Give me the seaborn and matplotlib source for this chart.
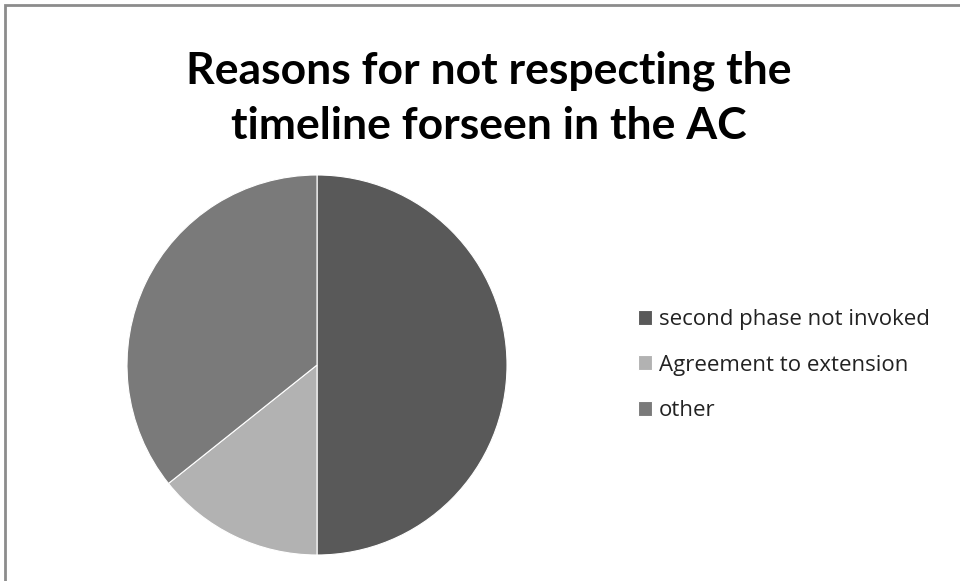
import matplotlib
matplotlib.use("Agg")
import matplotlib.pyplot as plt
import seaborn as sns
from matplotlib.patches import Rectangle

# Data
labels = ["second phase not invoked", "Agreement to extension", "other"]
counts = [7, 2, 5]
colors = ["#595959", "#b2b2b2", "#7a7a7a"]
title = "Reasons for not respecting the\ntimeline forseen in the AC"

sns.set_theme(style="white")
plt.rcParams["font.family"] = ["Open Sans", "DejaVu Sans"]

fig = plt.figure(figsize=(9.6, 5.81), dpi=100)
W, H = 960, 581

# outer chart border (cut off at right/bottom like the reference)
fig.patches.append(Rectangle((5 / W, -0.1), 1.2, 1 - 5 / H + 0.1,
                             transform=fig.transFigure, fill=False,
                             edgecolor="#8c8c8c", linewidth=2))

# pie axes: centre (317, 365), radius 190 px
r = 190
ax = fig.add_axes([(317 - r) / W, (H - 365 - r) / H, 2 * r / W, 2 * r / H])
wedges, _ = ax.pie(counts, colors=colors, startangle=90, counterclock=False,
                   wedgeprops=dict(edgecolor="white", linewidth=0.8))
ax.set_xlim(-1, 1)
ax.set_ylim(-1, 1)
ax.set_aspect("equal")
ax.axis("off")

fig.text(489 / W, 1 - 98 / H, title, ha="center", va="center",
         fontsize=32, fontweight="bold", linespacing=1.45, color="black",
         family=["Lato", "DejaVu Sans"])

fig.legend(wedges, labels, loc="center left",
           bbox_to_anchor=(622 / W, 1 - 365 / H), frameon=False,
           fontsize=16, handlelength=0.65, handleheight=0.65,
           handletextpad=0.3, labelspacing=1.1, labelcolor="#222222",
           borderpad=0.2)

fig.savefig("out.png", dpi=100)
